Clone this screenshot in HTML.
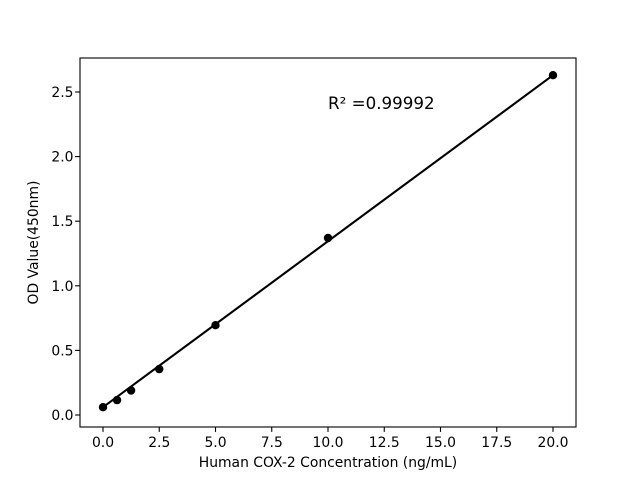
<!DOCTYPE html>
<html><head><meta charset="utf-8"><style>
html,body{margin:0;padding:0;background:#fff;}
text{font-family:"DejaVu Sans","Liberation Sans",sans-serif;fill:#000;}
</style></head><body>
<svg width="640" height="480" viewBox="0 0 640 480" xmlns="http://www.w3.org/2000/svg">
<rect width="640" height="480" fill="#fff"/>
<rect x="80" y="58" width="496" height="369" fill="none" stroke="#000" stroke-width="1.1"/>
<g stroke="#000" stroke-width="1.1">
<line x1="103" y1="427" x2="103" y2="431.9"/>
<line x1="159.25" y1="427" x2="159.25" y2="431.9"/>
<line x1="215.5" y1="427" x2="215.5" y2="431.9"/>
<line x1="271.75" y1="427" x2="271.75" y2="431.9"/>
<line x1="328" y1="427" x2="328" y2="431.9"/>
<line x1="384.25" y1="427" x2="384.25" y2="431.9"/>
<line x1="440.5" y1="427" x2="440.5" y2="431.9"/>
<line x1="496.75" y1="427" x2="496.75" y2="431.9"/>
<line x1="553" y1="427" x2="553" y2="431.9"/>
<line x1="75.1" y1="415" x2="80" y2="415"/>
<line x1="75.1" y1="350.4" x2="80" y2="350.4"/>
<line x1="75.1" y1="285.8" x2="80" y2="285.8"/>
<line x1="75.1" y1="221.2" x2="80" y2="221.2"/>
<line x1="75.1" y1="156.6" x2="80" y2="156.6"/>
<line x1="75.1" y1="92" x2="80" y2="92"/>
</g>
<g font-size="13.9" text-anchor="middle">
<text x="103" y="447">0.0</text>
<text x="159.25" y="447">2.5</text>
<text x="215.5" y="447">5.0</text>
<text x="271.75" y="447">7.5</text>
<text x="328" y="447">10.0</text>
<text x="384.25" y="447">12.5</text>
<text x="440.5" y="447">15.0</text>
<text x="496.75" y="447">17.5</text>
<text x="553" y="447">20.0</text>
</g>
<g font-size="13.9" text-anchor="end">
<text x="73.5" y="420">0.0</text>
<text x="73.5" y="355.4">0.5</text>
<text x="73.5" y="290.8">1.0</text>
<text x="73.5" y="226.2">1.5</text>
<text x="73.5" y="161.6">2.0</text>
<text x="73.5" y="97">2.5</text>
</g>
<text x="328" y="467" font-size="13.9" text-anchor="middle">Human COX-2 Concentration (ng/mL)</text>
<text x="38" y="242.5" font-size="13.9" text-anchor="middle" transform="rotate(-90 38 242.5)">OD Value(450nm)</text>
<text x="328" y="109" font-size="16.7">R² =0.99992</text>
<polyline fill="none" stroke="#000" stroke-width="2.1" points="103,407.2 553,75.2"/>
<g fill="#000">
<circle cx="103" cy="407.2" r="4.2"/>
<circle cx="117.06" cy="400.1" r="4.2"/>
<circle cx="131.1" cy="390.5" r="4.2"/>
<circle cx="159.25" cy="369.1" r="4.2"/>
<circle cx="215.5" cy="325.2" r="4.2"/>
<circle cx="328" cy="238" r="4.2"/>
<circle cx="553" cy="75.2" r="4.2"/>
</g>
</svg>
</body></html>
